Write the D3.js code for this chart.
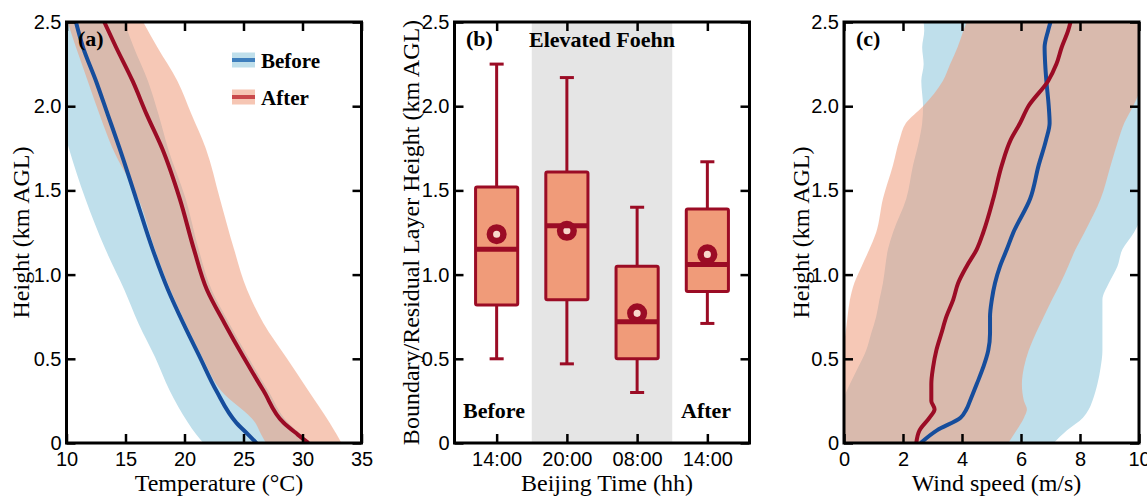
<!DOCTYPE html>
<html>
<head>
<meta charset="utf-8">
<script src="https://cdn.jsdelivr.net/npm/d3@7"></script>
<style>
  body { margin: 0; background: #fff; }
  svg { display: block; font-family: "Liberation Serif", "Times New Roman", serif; }
  .tick text { font-size: 20px; fill: #000; }
  .tick line { stroke: #000; stroke-width: 2.5px; }
  .axis-title { font-size: 24px; }
  .bold-label { font-size: 22px; font-weight: bold; }
</style>
</head>
<body>
<script>
// ---- panel (a): temperature profiles ----
const tempHeights = [0, 0.05, 0.12, 0.31, 0.51, 0.71, 0.91, 1.15, 1.45, 1.75, 1.95, 2.15, 2.35, 2.5];
const tempBefore = [26.1, 25.4, 24.4, 22.7, 21.3, 19.9, 18.6, 17.3, 15.9, 14.5, 13.5, 12.5, 11.4, 10.8];
const tempAfter = [30.5, 29.6, 28.4, 26.7, 25.0, 23.4, 21.9, 20.8, 19.6, 18.1, 16.8, 15.6, 14.2, 13.2];
const tempBeforeLo = [21.6, 21.0, 20.3, 18.75, 17.5, 16.1, 14.9, 13.3, 11.6, 10.2, 9.4, 8.8, 8.3, 8.0];
const tempBeforeHi = [30.7, 29.9, 28.8, 27.1, 25.4, 23.8, 22.3, 21.2, 20.1, 18.6, 17.8, 16.9, 15.7, 14.9];
const tempAfterLo = [26.9, 26.5, 26.0, 23.1, 21.5, 20.1, 18.8, 17.5, 16.1, 13.9, 12.8, 11.8, 10.8, 10.1];
const tempAfterHi = [33.3, 32.9, 32.3, 30.5, 28.6, 26.7, 25.3, 24.2, 23.0, 21.8, 20.6, 19.4, 17.7, 16.5];

// ---- panel (b): boundary / residual layer height boxes ----
const times = ["14:00", "20:00", "08:00", "14:00"];
const whiskerLo = [0.50, 0.47, 0.30, 0.71];
const q1 = [0.82, 0.85, 0.50, 0.90];
const medians = [1.15, 1.29, 0.72, 1.06];
const q3 = [1.52, 1.61, 1.05, 1.39];
const whiskerHi = [2.25, 2.17, 1.40, 1.67];
const means = [1.24, 1.26, 0.77, 1.12];

// ---- panel (c): wind speed profiles ----
const windHeights = [0, 0.075, 0.15, 0.2, 0.25, 0.35, 0.45, 0.55, 0.65, 0.75, 0.85, 0.95, 1.05, 1.15, 1.25, 1.45, 1.65, 1.8, 1.9, 2.0, 2.15, 2.25, 2.35, 2.45, 2.5];
const windBefore = [2.6, 3.15, 3.95, 4.15, 4.27, 4.5, 4.72, 4.89, 4.95, 4.95, 5.01, 5.12, 5.29, 5.52, 5.74, 6.31, 6.6, 6.85, 6.97, 6.94, 6.86, 6.82, 6.8, 6.92, 7.0];
const windAfter = [2.45, 2.56, 2.9, 3.07, 2.96, 2.96, 3.02, 3.13, 3.3, 3.47, 3.7, 3.87, 4.16, 4.5, 4.72, 5.06, 5.35, 5.65, 5.97, 6.25, 6.92, 7.2, 7.38, 7.6, 7.68];
const windBeforeLo = [-0.3, -0.25, -0.2, -0.15, -0.05, 0.2, 0.48, 0.75, 0.92, 1.09, 1.2, 1.32, 1.4, 1.49, 1.66, 2.11, 2.34, 2.55, 2.65, 2.68, 2.62, 2.7, 2.65, 2.72, 2.7];
const windBeforeHi = [7.11, 7.56, 8.1, 8.3, 8.42, 8.59, 8.7, 8.76, 8.76, 8.76, 8.76, 8.98, 9.27, 9.44, 9.83, 10.3, 10.6, 10.8, 11, 11, 11, 11, 11, 11, 11];
const windAfterLo = [-1.2, -1.0, -0.9, -0.8, -0.6, -0.35, -0.2, -0.05, 0.05, 0.12, 0.2, 0.35, 0.6, 0.86, 1.09, 1.32, 1.66, 1.88, 2.1, 2.68, 3.35, 3.6, 3.85, 4.05, 4.16];
const windAfterHi = [5.57, 5.85, 6.1, 6.2, 6.1, 6.03, 6.1, 6.26, 6.5, 6.77, 7.05, 7.34, 7.6, 7.85, 8.15, 8.7, 9.04, 9.3, 9.5, 9.8, 10.2, 10.5, 10.8, 11, 11];

const blueLine = "#164d9c";
const redLine = "#9b0c25";
const blueFill = "#bfdfeb";
const salmonFill = "#ef9b7a";
const salmonOpacity = 0.55;
const boxFill = "#f09b79";

const W = 1147, H = 496;
const plotTop = 22, plotBottom = 443;
const plotW = 295;

const svg = d3.select("body").append("svg")
    .attr("width", W)
    .attr("height", H);

const yScale = d3.scaleLinear().domain([0, 2.5]).range([plotBottom, plotTop]);
const yFmt = d => d === 0 ? "0" : d3.format(".1f")(d);

// draws frame + inward ticks on all four sides
function drawAxes(g, x, xTicks, xFmt, left) {
    g.append("g")
        .attr("transform", "translate(0," + plotBottom + ")")
        .call(d3.axisBottom(x).tickValues(xTicks).tickFormat(xFmt).tickSizeInner(-9).tickSizeOuter(0).tickPadding(9));
    g.append("g")
        .attr("transform", "translate(0," + plotTop + ")")
        .call(d3.axisTop(x).tickValues(xTicks).tickFormat("").tickSizeInner(-9).tickSizeOuter(0));
    g.append("g")
        .attr("transform", "translate(" + left + ",0)")
        .call(d3.axisLeft(yScale).tickValues([0, 0.5, 1, 1.5, 2, 2.5]).tickFormat(yFmt).tickSizeInner(-9).tickSizeOuter(0).tickPadding(5));
    g.append("g")
        .attr("transform", "translate(" + (left + plotW) + ",0)")
        .call(d3.axisRight(yScale).tickValues([0, 0.5, 1, 1.5, 2, 2.5]).tickFormat("").tickSizeInner(-9).tickSizeOuter(0));
    g.selectAll(".domain").remove();
    g.append("rect")
        .attr("x", left).attr("y", plotTop)
        .attr("width", plotW).attr("height", plotBottom - plotTop)
        .attr("fill", "none")
        .attr("stroke", "#000")
        .attr("stroke-width", 3);
}

function makeClip(id, left) {
    svg.append("clipPath").attr("id", id)
        .append("rect")
        .attr("x", left).attr("y", plotTop)
        .attr("width", plotW).attr("height", plotBottom - plotTop);
}

function yTitle(xPos, text) {
    svg.append("text")
        .attr("class", "axis-title")
        .attr("transform", "translate(" + xPos + "," + ((plotTop + plotBottom) / 2) + ") rotate(-90)")
        .attr("text-anchor", "middle")
        .text(text);
}

function xTitle(left, text) {
    svg.append("text")
        .attr("class", "axis-title")
        .attr("x", left + plotW / 2 + 5)
        .attr("y", 491)
        .attr("text-anchor", "middle")
        .text(text);
}

function profilePanel(id, left, xDomain, hts, lo1, hi1, lo2, hi2, l1, l2) {
    const x = d3.scaleLinear().domain(xDomain).range([left, left + plotW]);
    makeClip(id, left);
    const g = svg.append("g").attr("clip-path", "url(#" + id + ")");
    const idx = d3.range(hts.length);
    const area = (lo, hi) => d3.area()
        .y(i => yScale(hts[i]))
        .x0(i => x(lo[i]))
        .x1(i => x(hi[i]))
        .curve(d3.curveMonotoneY);
    const line = vals => d3.line()
        .y(i => yScale(hts[i]))
        .x(i => x(vals[i]))
        .curve(d3.curveMonotoneY);

    g.append("path").attr("d", area(lo1, hi1)(idx)).attr("fill", blueFill);
    g.append("path").attr("d", area(lo2, hi2)(idx)).attr("fill", salmonFill).attr("fill-opacity", salmonOpacity);
    g.append("path").attr("d", line(l1)(idx)).attr("fill", "none").attr("stroke", blueLine).attr("stroke-width", 4);
    g.append("path").attr("d", line(l2)(idx)).attr("fill", "none").attr("stroke", redLine).attr("stroke-width", 4);
    return x;
}

// ================= panel (a) =================
const aLeft = 66.5;
const xTemp = profilePanel("clipA", aLeft, [10, 35], tempHeights,
    tempBeforeLo, tempBeforeHi, tempAfterLo, tempAfterHi, tempBefore, tempAfter);
drawAxes(svg.append("g"), xTemp, [10, 15, 20, 25, 30, 35], d3.format("d"), aLeft);

// legend
const legend = [
    { name: "Before", fill: blueFill, line: "#3f7fbd", y: 60 },
    { name: "After", fill: "#f6c6b4", line: "#c9494b", y: 97 }
];
legend.forEach(d => {
    svg.append("rect").attr("x", 232).attr("y", d.y - 7.5).attr("width", 23).attr("height", 15).attr("fill", d.fill);
    svg.append("line").attr("x1", 232).attr("x2", 255).attr("y1", d.y).attr("y2", d.y)
        .attr("stroke", d.line).attr("stroke-width", 4);
    svg.append("text").attr("class", "bold-label").style("font-size", "21px")
        .attr("x", 261).attr("y", d.y + 8).text(d.name);
});
svg.append("text").attr("class", "bold-label").attr("x", 78).attr("y", 46).text("(a)");
xTitle(aLeft, "Temperature (\u00B0C)");
yTitle(29, "Height (km AGL)");

// ================= panel (b) =================
const bLeft = 454.5;
const xTime = d3.scaleLinear().domain([0.4, 4.6]).range([bLeft, bLeft + plotW]);
const gb = svg.append("g");
gb.append("rect")
    .attr("x", xTime(1.5)).attr("y", plotTop)
    .attr("width", xTime(3.5) - xTime(1.5)).attr("height", plotBottom - plotTop)
    .attr("fill", "#e5e5e5");

const boxes = times.map((t, i) => ({
    pos: i + 1, lo: whiskerLo[i], q1: q1[i], med: medians[i], q3: q3[i], hi: whiskerHi[i], mean: means[i]
}));
const boxHalf = 0.3, capHalf = 0.1;
const bg = gb.selectAll(".box").data(boxes).enter().append("g").attr("class", "box");
bg.append("line")
    .attr("x1", d => xTime(d.pos)).attr("x2", d => xTime(d.pos))
    .attr("y1", d => yScale(d.lo)).attr("y2", d => yScale(d.hi))
    .attr("stroke", redLine).attr("stroke-width", 3);
bg.selectAll(".cap").data(d => [d.lo, d.hi].map(v => ({ pos: d.pos, v: v }))).enter().append("line")
    .attr("x1", d => xTime(d.pos - capHalf)).attr("x2", d => xTime(d.pos + capHalf))
    .attr("y1", d => yScale(d.v)).attr("y2", d => yScale(d.v))
    .attr("stroke", redLine).attr("stroke-width", 3);
bg.append("rect")
    .attr("x", d => xTime(d.pos - boxHalf))
    .attr("width", d => xTime(d.pos + boxHalf) - xTime(d.pos - boxHalf))
    .attr("y", d => yScale(d.q3))
    .attr("height", d => yScale(d.q1) - yScale(d.q3))
    .attr("fill", boxFill).attr("stroke", redLine).attr("stroke-width", 3)
    .attr("rx", 1.5);
bg.append("circle")
    .attr("cx", d => xTime(d.pos)).attr("cy", d => yScale(d.mean))
    .attr("r", 6.8)
    .attr("fill", "#f8d8cb").attr("stroke", redLine).attr("stroke-width", 6.5);
bg.append("line")
    .attr("x1", d => xTime(d.pos - boxHalf)).attr("x2", d => xTime(d.pos + boxHalf))
    .attr("y1", d => yScale(d.med)).attr("y2", d => yScale(d.med))
    .attr("stroke", redLine).attr("stroke-width", 5);

drawAxes(gb, xTime, [1, 2, 3, 4], (d, i) => times[i], bLeft);
svg.append("text").attr("class", "bold-label").attr("x", 466).attr("y", 46).text("(b)");
svg.append("text").attr("class", "bold-label").attr("x", xTime(2.5)).attr("y", 47)
    .attr("text-anchor", "middle").text("Elevated Foehn");
svg.append("text").attr("class", "bold-label").attr("x", 463).attr("y", 418).text("Before");
svg.append("text").attr("class", "bold-label").attr("x", 681).attr("y", 418).text("After");
xTitle(bLeft, "Beijing Time (hh)");
yTitle(419, "Boundary/Residual Layer Height (km AGL)");

// ================= panel (c) =================
const cLeft = 844;
const xWind = profilePanel("clipC", cLeft, [0, 10], windHeights,
    windBeforeLo, windBeforeHi, windAfterLo, windAfterHi, windBefore, windAfter);
drawAxes(svg.append("g"), xWind, [0, 2, 4, 6, 8, 10], d3.format("d"), cLeft);
svg.append("text").attr("class", "bold-label").attr("x", 856).attr("y", 46).text("(c)");
xTitle(cLeft, "Wind speed (m/s)");
yTitle(809, "Height (km AGL)");
</script>
</body>
</html>
